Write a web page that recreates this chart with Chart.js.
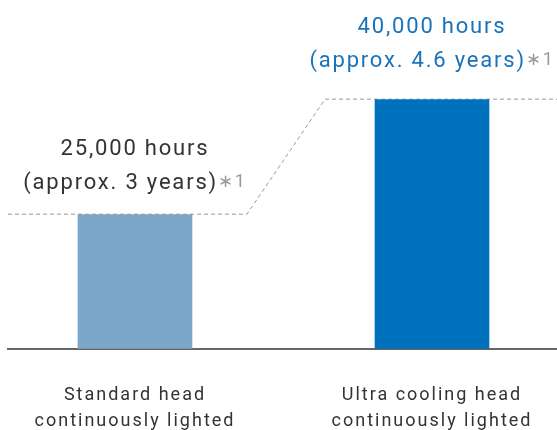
<!DOCTYPE html>
<html>
<head>
<meta charset="utf-8">
<script src="https://cdn.jsdelivr.net/npm/chart.js@4"></script>
<style>
  html, body { margin: 0; padding: 0; background: #fff; }
  #wrap { width: 557px; height: 430px; }
</style>
</head>
<body>
<div id="wrap"><canvas id="chart"></canvas></div>
<script>
// Data
const categories = [
    ["Standard head", "continuously lighted"],
    ["Ultra cooling head", "continuously lighted"]
];
const hours = [25000, 40000];
const yearLabels = ["(approx. 3 years)", "(approx. 4.6 years)"];
const noteMark = "∗1";

const barColors = ["#7ba6c8", "#0071bc"];
const textColors = ["#333333", "#1a73ba"];

// labels above the bars + dashed connector
const lifePlugin = {
    id: "lifeLabels",
    beforeDraw(chart) {
        chart.ctx.letterSpacing = "2px";
    },
    beforeDatasetsDraw(chart) {
        const ctx = chart.ctx;
        const bars = chart.getDatasetMeta(0).data;
        const area = chart.chartArea;
        const a = bars[0], b = bars[1];
        ctx.save();
        ctx.strokeStyle = "#9a9a9a";
        ctx.lineWidth = 1;
        ctx.setLineDash([4, 3]);
        ctx.beginPath();
        ctx.moveTo(area.left, a.y - 0.5);
        ctx.lineTo(a.x + a.width / 2 + 55, a.y - 0.5);
        ctx.lineTo(b.x - b.width / 2 - 50, b.y - 0.5);
        ctx.lineTo(area.right, b.y - 0.5);
        ctx.stroke();
        ctx.restore();
    },
    afterDatasetsDraw(chart) {
        const ctx = chart.ctx;
        const bars = chart.getDatasetMeta(0).data;
        const gaps = [31, 38];
        ctx.save();
        ctx.letterSpacing = "1.8px";
        ctx.textBaseline = "middle";
        bars.forEach((bar, i) => {
            const y2 = bar.y - gaps[i];
            const y1 = y2 - 34.5;
            const mainFont = "22px Roboto";
            const noteFont = "18px Roboto";

            ctx.font = mainFont;
            ctx.fillStyle = textColors[i];
            ctx.textAlign = "center";
            ctx.fillText(hours[i].toLocaleString("en-US") + " hours", bar.x, y1);

            ctx.textAlign = "left";
            const w1 = ctx.measureText(yearLabels[i]).width;
            ctx.font = noteFont;
            const w2 = ctx.measureText(noteMark).width;
            const start = bar.x - (w1 + w2) / 2;
            ctx.font = mainFont;
            ctx.fillText(yearLabels[i], start, y2);
            ctx.font = noteFont;
            ctx.fillStyle = "#9a9a9a";
            ctx.fillText(noteMark, start + w1, y2 - 1);
        });
        ctx.restore();
    }
};

const ctx = document.getElementById("chart").getContext("2d");
new Chart(ctx, {
    type: "bar",
    data: {
        datasets: [{
            data: hours.map((h, i) => ({ x: i, y: h })),
            backgroundColor: barColors,
            barThickness: 114,
            borderWidth: 0
        }]
    },
    options: {
        responsive: true,
        maintainAspectRatio: false,
        animation: false,
        layout: { padding: { left: 8, right: 0, top: 0, bottom: -39 } },
        plugins: {
            legend: { display: false },
            tooltip: { enabled: false }
        },
        scales: {
            x: {
                type: "linear",
                offset: false,
                min: -0.4276,
                max: 1.4209,
                afterBuildTicks: axis => {
                    axis.ticks = categories.map((c, i) => ({ value: i }));
                },
                grid: { display: false, drawTicks: false, offset: false },
                border: { display: true, color: "#666666", width: 2 },
                ticks: {
                    autoSkip: false,
                    maxRotation: 0,
                    padding: 34,
                    color: "#333333",
                    font: { family: "Roboto", size: 18, lineHeight: 1.45 },
                    callback: value => categories[value]
                }
            },
            y: {
                display: false,
                min: 7500,
                max: 53000
            }
        }
    },
    plugins: [lifePlugin]
});
</script>
</body>
</html>
